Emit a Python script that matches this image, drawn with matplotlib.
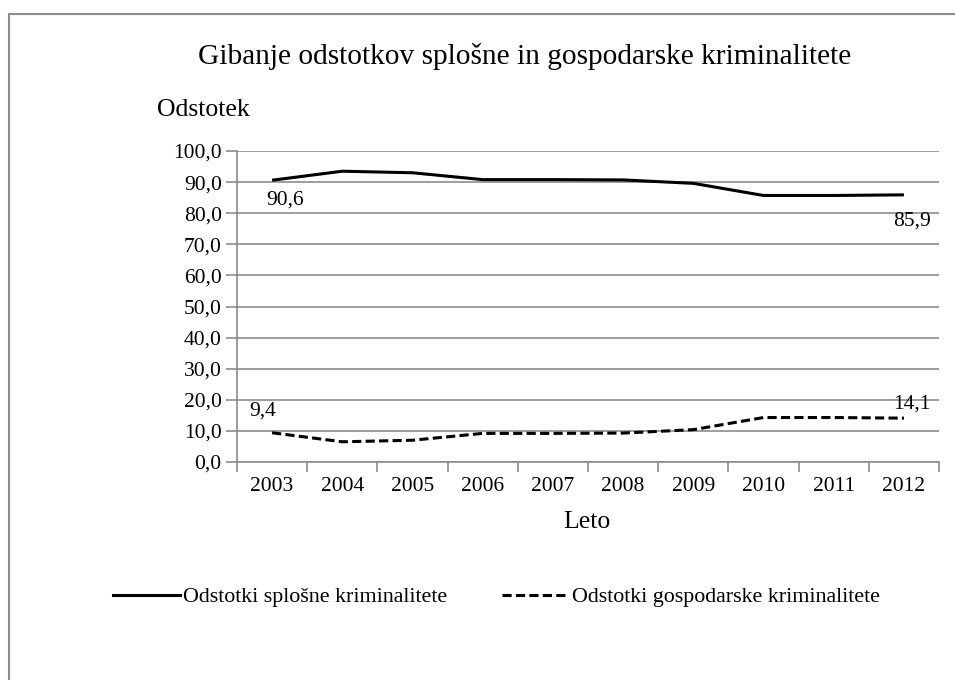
import matplotlib
matplotlib.use("Agg")
import matplotlib.pyplot as plt
from matplotlib.ticker import FuncFormatter, FixedLocator
from matplotlib.lines import Line2D
from matplotlib.patches import Rectangle

plt.rcParams['font.family'] = ['Liberation Serif', 'DejaVu Serif']

years = ['2003', '2004', '2005', '2006', '2007', '2008', '2009', '2010', '2011', '2012']
splosne = [90.6, 93.5, 93.0, 90.8, 90.8, 90.7, 89.6, 85.7, 85.7, 85.9]
gospodarske = [9.4, 6.5, 7.0, 9.2, 9.2, 9.3, 10.4, 14.3, 14.3, 14.1]
yticks = [0, 10, 20, 30, 40, 50, 60, 70, 80, 90, 100]

W, H = 955, 680
fig = plt.figure(figsize=(W / 100, H / 100), dpi=100)

# grey chart-area border (Excel style), open to the right and bottom
fig.patches.append(Rectangle((9 / W, -0.1), 1.2, (H - 14) / H + 0.1,
                             transform=fig.transFigure, fill=False,
                             edgecolor='#8c8c8c', linewidth=1.5))

ax = fig.add_axes([237 / W, (H - 462) / H, (939 - 237) / W, (462 - 151) / H])

DASH = (3, 1.4)
x = list(range(len(years)))
ax.plot(x, splosne, color='black', linewidth=2.2, solid_capstyle='butt')
ax.plot(x, gospodarske, color='black', linewidth=2.2, dashes=DASH)

ax.set_xlim(-0.5, len(years) - 0.5)
ax.set_ylim(0, 100)

# category axis: tick marks between categories, labels at centres
ax.xaxis.set_major_locator(FixedLocator([i - 0.5 for i in range(len(years) + 1)]))
ax.xaxis.set_major_formatter(FuncFormatter(lambda v, p: ''))
ax.set_xticks(x, years, minor=True)
ax.tick_params(axis='x', which='major', length=7, width=1.2, color='#8c8c8c', direction='out')
ax.tick_params(axis='x', which='minor', length=0, labelsize=15.5, pad=11)

ax.set_yticks(yticks)
ax.yaxis.set_major_formatter(FuncFormatter(lambda v, p: f'{v:.1f}'.replace('.', ',')))
ax.tick_params(axis='y', length=8, width=1.2, color='#8c8c8c', labelsize=15.5, pad=3)

ax.grid(axis='y', color='#8c8c8c', linewidth=1.2)
ax.set_axisbelow(True)
for s in ['top', 'right']:
    ax.spines[s].set_visible(False)
for s in ['left', 'bottom']:
    ax.spines[s].set_color('#8c8c8c')
    ax.spines[s].set_linewidth(1.2)

def fmt(v):
    return f'{v:.1f}'.replace('.', ',')

lab = dict(textcoords='offset pixels', fontsize=15.5)
ax.annotate(fmt(splosne[0]), (x[0], splosne[0]), xytext=(-6, -10), ha='left', va='top', **lab)
ax.annotate(fmt(splosne[-1]), (x[-1], splosne[-1]), xytext=(-11, -17), ha='left', va='top', **lab)
ax.annotate(fmt(gospodarske[0]), (x[0], gospodarske[0]), xytext=(-23, 12), ha='left', va='bottom', **lab)
ax.annotate(fmt(gospodarske[-1]), (x[-1], gospodarske[-1]), xytext=(-11, 5), ha='left', va='bottom', **lab)

fig.text(525 / W, 1 - 57 / H, 'Gibanje odstotkov splošne in gospodarske kriminalitete',
         ha='center', va='center', fontsize=21.2)
fig.text(157 / W, 1 - 110 / H, 'Odstotek', ha='left', va='center', fontsize=18.5)
fig.text(587 / W, 1 - 522 / H, 'Leto', ha='center', va='center', fontsize=18.5)

handles = [Line2D([], [], color='black', linewidth=2.2),
           Line2D([], [], color='black', linewidth=2.2, dashes=DASH)]
fig.legend(handles, ['Odstotki splošne kriminalitete', 'Odstotki gospodarske kriminalitete'],
           loc='center left', bbox_to_anchor=(113 / W, 1 - 597 / H), ncol=2, frameon=False,
           fontsize=15.8, handlelength=3.05, handletextpad=0.14, columnspacing=2.5,
           borderpad=0, borderaxespad=0)

fig.savefig('out.png', dpi=100)
